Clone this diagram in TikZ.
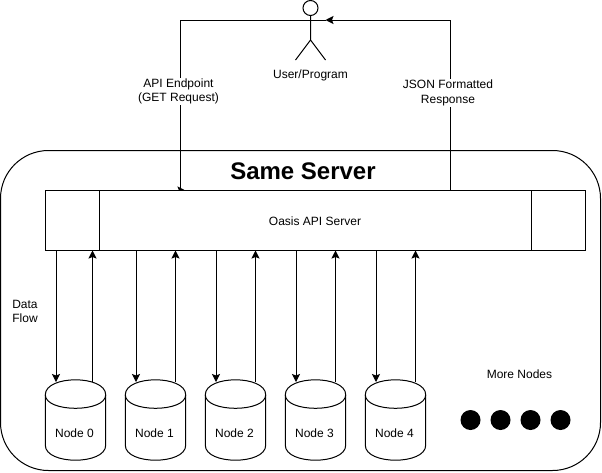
\documentclass[tikz,border=0pt]{standalone}
\usepackage{fontspec}
\setmainfont{Liberation Sans}
\usetikzlibrary{arrows.meta}
\tikzset{
  every node/.style={font=\fontsize{12}{14.5}\selectfont, inner sep=1pt, align=center},
  line/.style={draw=black, line width=1pt},
  arr/.style={line, -{Stealth[length=8pt,width=8pt,inset=1.5pt]}},
  box/.style={line, fill=white, rectangle, inner sep=0pt},
  store/.style={rectangle, minimum width=60pt, minimum height=80pt, inner sep=0pt},
  dot/.style={circle, fill=black, minimum size=20pt, inner sep=0pt},
  tag/.style={fill=white},
}
\begin{document}
\begin{tikzpicture}[x=1pt,y=-1pt]
\useasboundingbox (0,0) rectangle (602,472);
\node[box, rounded corners=48pt, minimum width=600pt, minimum height=320pt] (outer) at (300.5,310.5) {};
\node[font=\fontsize{24}{28}\selectfont\bfseries, inner sep=0pt] (title) at (303,171.5) {Same Server};
% actor
\node[line, circle, fill=white, minimum size=15pt, inner sep=0pt] (head) at (310.5,8) {};
\coordinate (hip) at (310.5,40);
\coordinate (armL) at (295.5,20);
\coordinate (armR) at (325.5,20);
\coordinate (legL) at (295.5,60);
\coordinate (legR) at (325.5,60);
\draw[line] (head.south) -- (hip) -- (legL) (hip) -- (legR);
\node (user) at (310.5,75) {User/Program};
% server
\coordinate (reqTop) at (180.5,20);
\coordinate (respTop) at (450.5,20);
\coordinate (reqEnd) at (185.5,190.5);
\coordinate (respStart) at (450.5,190);
\draw[arr] (armL) -- (reqTop) -- (180.5,190.5) -- (reqEnd);
\draw[arr] (respStart) -- (respTop) -- (armR);
\draw[line] (armL) -- (armR);
\node[box, minimum width=540pt, minimum height=60pt] (srv) at (315.5,220) {};
\node (srvlabel) at (315,221) {Oasis API Server};
\draw[line] (99.5,190) -- (99.5,250) (531.5,190) -- (531.5,250);
\node[tag] (epl) at (178.5,91.5) {API Endpoint\\(GET Request)};
\node[tag] (jsl) at (448,93) {JSON Formatted\\Response};
% storage nodes
\foreach \i/\x/\u in {0/75.5/17pt,1/155.5/20pt,2/235.5/20pt,3/315.5/20pt,4/395.5/20pt}{
  \node[store] (c\i) at (\x,420) {};
  \draw[line, fill=white]
    ([yshift=-15pt]c\i.north west)
    .. controls ([yshift=5pt]c\i.north west) and ([yshift=5pt]c\i.north east) .. ([yshift=-15pt]c\i.north east)
    -- ([yshift=15pt]c\i.south east)
    .. controls ([yshift=-5pt]c\i.south east) and ([yshift=-5pt]c\i.south west) .. ([yshift=15pt]c\i.south west)
    -- cycle;
  \draw[line]
    ([yshift=-15pt]c\i.north west)
    .. controls ([yshift=-33pt]c\i.north west) and ([yshift=-33pt]c\i.north east) .. ([yshift=-15pt]c\i.north east);
  \node (t\i) at (\x-1,433.5) {Node \i};
  \draw[arr] ([xshift=-19.5pt]c\i.center |- srv.south) -- ([xshift=-19.5pt,yshift=38pt]c\i.center);
  \draw[arr] ([xshift=\u,yshift=38pt]c\i.center) -- ([xshift=\u]c\i.center |- srv.south);
}
\node (flow) at (25,311.5) {Data\\Flow};
\node (more) at (519.5,374) {More Nodes};
\foreach \i/\x in {0/470.5,1/500.5,2/530.5,3/560.5}{
  \node[dot] (d\i) at (\x,420) {};
}
\end{tikzpicture}
\end{document}
